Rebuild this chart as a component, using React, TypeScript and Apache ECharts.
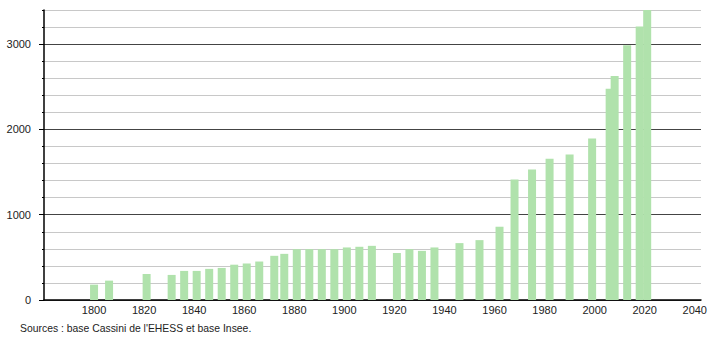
import React, { useEffect, useRef } from "react";
import * as echarts from "echarts";

const years = [1800, 1806, 1821, 1831, 1836, 1841, 1846, 1851, 1856, 1861, 1866, 1872, 1876, 1881, 1886, 1891, 1896, 1901, 1906, 1911, 1921, 1926, 1931, 1936, 1946, 1954, 1962, 1968, 1975, 1982, 1990, 1999, 2006, 2008, 2013, 2018, 2021];
const population = [180, 227, 305, 294, 341, 341, 365, 376, 414, 428, 451, 518, 541, 596, 596, 596, 596, 616, 624, 635, 551, 596, 576, 616, 667, 702, 859, 1412, 1529, 1655, 1706, 1894, 2478, 2627, 2988, 3208, 3400];
const xTickLabels = [1800, 1820, 1840, 1860, 1880, 1900, 1920, 1940, 1960, 1980, 2000, 2020, 2040];
const yTickLabels = [0, 1000, 2000, 3000];
const sourceText = "Sources : base Cassini de l'EHESS et base Insee.";

export default function App() {
  const ref = useRef<HTMLDivElement>(null);
  useEffect(() => {
    document.body.style.margin = "0";
    if (!ref.current) return;
    const chart = echarts.init(ref.current, null, { renderer: "svg" });
    const font = "Liberation Sans, Arial, sans-serif";
    chart.setOption({
      animation: false,
      textStyle: { fontFamily: font },
      grid: { left: 44, right: 9, top: 10, bottom: 40, containLabel: false },
      xAxis: {
        type: "value",
        min: 1780,
        max: 2042.5,
        interval: 20,
        axisLine: { show: true, lineStyle: { color: "#000", width: 1.5 } },
        axisTick: { show: false },
        splitLine: { show: false },
        axisLabel: {
          customValues: xTickLabels,
          color: "#222",
          fontSize: 11,
          fontFamily: font,
          margin: 4,
          formatter: (v: number) => String(v),
        },
      },
      yAxis: [
        {
          type: "value",
          min: 0,
          max: 3400,
          interval: 200,
          axisLine: { show: true, lineStyle: { color: "#000", width: 1.5 } },
          axisTick: { show: true, length: 2, lineStyle: { color: "#000" } },
          splitLine: {
            show: true,
            lineStyle: { color: ["#444", "#c8c8c8", "#c8c8c8", "#c8c8c8", "#c8c8c8"], width: 1 },
          },
          axisLabel: {
            customValues: yTickLabels,
            color: "#222",
            fontSize: 11,
            fontFamily: font,
            margin: 13,
            formatter: (v: number) => String(v),
          },
        },
        {
          type: "value",
          min: 0,
          max: 3400,
          position: "left",
          axisLine: { show: false },
          axisTick: { show: true, length: 5, customValues: yTickLabels, lineStyle: { color: "#000" } },
          splitLine: { show: false },
          axisLabel: { show: false },
        },
      ],
      series: [
        {
          type: "bar",
          yAxisIndex: 0,
          barWidth: 8,
          itemStyle: { color: "#b0e2ac" },
          data: years.map((y, i) => [y, population[i]]),
        },
      ],
      graphic: [
        {
          type: "text",
          left: 20,
          top: 323,
          style: { text: sourceText, fill: "#222", fontSize: 10.4, fontFamily: font },
        },
      ],
    });
    return () => chart.dispose();
  }, []);
  return <div ref={ref} style={{ width: 710, height: 340 }} />;
}
